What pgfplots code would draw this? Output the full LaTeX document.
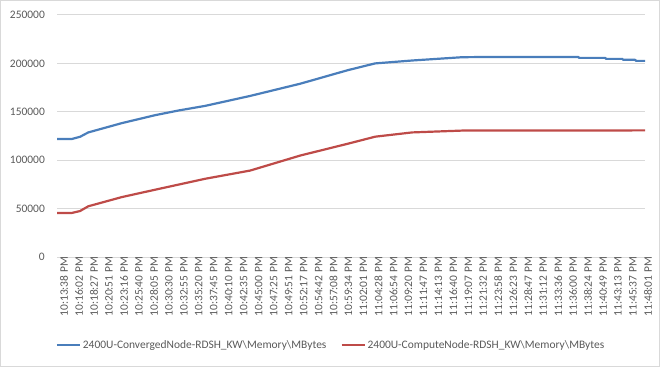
\documentclass[border=0pt]{standalone}
\usepackage{fontspec}
\setmainfont{Carlito}
\usepackage{pgfplots}
\pgfplotsset{compat=1.18}
\definecolor{serA}{HTML}{4A7EBB}
\definecolor{serB}{HTML}{BE4B48}
\definecolor{gridc}{HTML}{D9D9D9}
\definecolor{txtc}{HTML}{595959}
\begin{document}
\begin{tikzpicture}[x=1bp,y=1bp]
\path[use as bounding box] (0,0) rectangle (660,367);
\draw[gridc, line width=1bp] (0.5,0.5) rectangle (659.5,366.5);
\begin{axis}[
  at={(57bp,110bp)}, anchor=south west,
  scale only axis, width=588bp, height=242bp,
  xmin=-0.07, xmax=39.2, ymin=0, ymax=250000,
  scaled y ticks=false,
  axis line style={draw=none},
  axis x line*=bottom,
  ytick={0,50000,100000,150000,200000,250000},
  yticklabels={0,50000,100000,150000,200000,250000},
  xtick={0,...,39},
  xticklabels={10:13:38 PM,10:16:02 PM,10:18:27 PM,10:20:51 PM,10:23:16 PM,10:25:40 PM,10:28:05 PM,10:30:30 PM,10:32:55 PM,10:35:20 PM,10:37:45 PM,10:40:10 PM,10:42:35 PM,10:45:00 PM,10:47:25 PM,10:49:51 PM,10:52:17 PM,10:54:42 PM,10:57:08 PM,10:59:34 PM,11:02:01 PM,11:04:28 PM,11:06:54 PM,11:09:20 PM,11:11:47 PM,11:14:13 PM,11:16:40 PM,11:19:07 PM,11:21:32 PM,11:23:58 PM,11:26:23 PM,11:28:47 PM,11:31:12 PM,11:33:36 PM,11:36:00 PM,11:38:24 PM,11:40:49 PM,11:43:13 PM,11:45:37 PM,11:48:01 PM},
  major tick length=0pt,
  ymajorgrids, grid style={gridc, line width=1bp},
  tick label style={font=\fontsize{11.5}{13}\selectfont, text=txtc},
  yticklabel style={anchor=east, inner sep=0pt, xshift=-12bp},
  xticklabel style={rotate=90, anchor=east, inner sep=0pt, yshift=-6bp},
  legend style={at={(0.466,-0.364)}, anchor=center, draw=none, fill=none,
    legend columns=2, font=\fontsize{11.5}{13}\selectfont, text=txtc,
    /tikz/every even column/.append style={column sep=12bp},
    nodes={inner xsep=2bp}},
  legend image code/.code={\draw[#1] (0bp,0bp) -- (23bp,0bp);},
  clip=false,
]
\addplot[serA, line width=2.2bp, line join=round] coordinates {
(-0.07,121900) (0.92,121900) (1.47,124200) (2.02,128700) (4.26,138300) (6.48,146500) (8.1,151500) (9.82,156100) (12.83,166400) (16.17,179000) (19.35,193000) (21.18,200000) (23.65,203000) (26.99,206400) (29.19,206700) (34.74,206700) (34.8,205700) (36.54,205700) (36.6,204700) (37.68,204700) (37.74,203700) (38.54,203700) (38.6,202600) (39.2,202600)
};
\addlegendentry{2400U-ConvergedNode-RDSH\_KW\textbackslash Memory\textbackslash MBytes}
\addplot[serB, line width=2.2bp, line join=round] coordinates {
(-0.07,45500) (0.92,45500) (1.47,47500) (2.02,52400) (4.26,61900) (6.48,69500) (9.82,80800) (12.83,89300) (16.17,104800) (19.35,117000) (21.18,124300) (23.65,128700) (26.99,130600) (39.2,130800)
};
\addlegendentry{2400U-ComputeNode-RDSH\_KW\textbackslash Memory\textbackslash MBytes}
\end{axis}
\end{tikzpicture}
\end{document}
